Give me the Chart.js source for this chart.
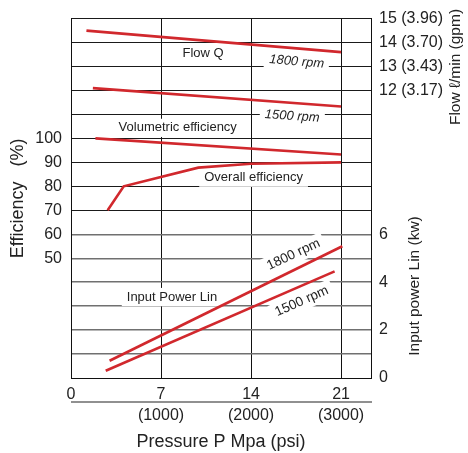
<!DOCTYPE html>
<html>
<head>
<meta charset="utf-8">
<script src="https://cdn.jsdelivr.net/npm/chart.js@4.4.0/dist/chart.umd.min.js"></script>
<style>
  html, body { margin: 0; padding: 0; background: #fff; }
</style>
</head>
<body>
<canvas id="c" width="468" height="453"></canvas>
<script>
// Pressure (MPa) for each curve, and the matching values
const flow1800P = [1.2, 21];
const flow1800Q = [14.5, 13.6];          // l/min
const flow1500P = [1.7, 21];
const flow1500Q = [12.1, 11.33];         // l/min
const volEffP = [1.9, 21];
const volEff = [100, 93.3];              // %
const overallEffP = [2.85, 4.1, 9.9, 14, 21];
const overallEff = [70, 80, 87.8, 89.4, 90];   // %
const power1800P = [3.0, 21.1];
const power1800 = [0.72, 5.5];           // kW
const power1500P = [2.7, 20.5];
const power1500 = [0.3, 4.45];           // kW

// Tick labels
const pressureTicks = [0, 7, 14, 21];
const psiLabels = ['', '(1000)', '(2000)', '(3000)'];
const effTicks = [50, 60, 70, 80, 90, 100];
const flowTicks = [12, 13, 14, 15];
const gpmLabels = ['3.17', '3.43', '3.70', '3.96'];
const powerTicks = [0, 2, 4, 6];

const FONT = '"Liberation Sans", Arial, Helvetica, sans-serif';
const RED = '#d1282d';
const INK = '#222';

function pts(xs, ys) {
    return xs.map((x, i) => ({ x: x, y: ys[i] }));
}

// labels written inside the plot (x in MPa, y on the right-hand 0..15 scale)
const notes = [
    { text: 'Flow Q', x: 10.27, y: 13.54, rot: 0, size: 13 },
    { text: '1800 rpm', x: 17.55, y: 13.2, rot: 5, size: 13, italic: true },
    { text: '1500 rpm', x: 17.2, y: 10.92, rot: 4, size: 13, italic: true },
    { text: 'Volumetric efficiency', x: 8.3, y: 10.44, rot: 0, size: 13 },
    { text: 'Overall efficiency', x: 14.2, y: 8.36, rot: 0, size: 13 },
    { text: '1800 rpm', x: 17.3, y: 5.15, rot: -25, size: 13.5 },
    { text: '1500 rpm', x: 17.95, y: 3.2, rot: -24, size: 13.5 },
    { text: 'Input Power Lin', x: 7.85, y: 3.38, rot: 0, size: 13 }
];

const notesPlugin = {
    id: 'notes',
    beforeDatasetsDraw(chart) {
        const ctx = chart.ctx;
        const xs = chart.scales.x, ys = chart.scales.yR;
        notes.forEach(n => {
            const px = xs.getPixelForValue(n.x);
            const py = ys.getPixelForValue(n.y);
            ctx.save();
            ctx.translate(px, py);
            ctx.rotate(n.rot * Math.PI / 180);
            ctx.font = (n.italic ? 'italic ' : '') + n.size + 'px ' + FONT;
            const w = ctx.measureText(n.text).width;
            ctx.fillStyle = '#fff';
            ctx.fillRect(-w / 2 - 5, -n.size * 0.7, w + 10, n.size * 1.4);
            ctx.fillStyle = INK;
            ctx.textAlign = 'center';
            ctx.textBaseline = 'middle';
            ctx.fillText(n.text, 0, 0);
            ctx.restore();
        });
    },
    afterDraw(chart) {
        const ctx = chart.ctx;
        const a = chart.chartArea;
        // line between MPa and psi labels
        ctx.save();
        ctx.strokeStyle = INK;
        ctx.lineWidth = 1.2;
        ctx.beginPath();
        ctx.moveTo(a.left, a.bottom + 24);
        ctx.lineTo(a.right + 1, a.bottom + 24);
        ctx.stroke();
        // right-hand axis titles
        ctx.fillStyle = INK;
        ctx.font = '15.5px ' + FONT;
        ctx.textAlign = 'center';
        ctx.textBaseline = 'middle';
        ctx.translate(456, 67);
        ctx.rotate(-Math.PI / 2);
        ctx.fillText('Flow \u2113/min (gpm)', 0, 0);
        ctx.restore();
        ctx.save();
        ctx.fillStyle = INK;
        ctx.font = '15.5px ' + FONT;
        ctx.textAlign = 'center';
        ctx.textBaseline = 'middle';
        ctx.translate(415, 286);
        ctx.rotate(-Math.PI / 2);
        ctx.fillText('Input power Lin (kw)', 0, 0);
        ctx.restore();
    }
};

function line(label, data, axis) {
    return {
        label: label,
        data: data,
        yAxisID: axis,
        borderColor: RED,
        borderWidth: 2.6,
        pointRadius: 0,
        fill: false,
        tension: 0
    };
}

new Chart(document.getElementById('c'), {
    type: 'line',
    data: {
        datasets: [
            line('Flow 1800 rpm', pts(flow1800P, flow1800Q), 'yR'),
            line('Flow 1500 rpm', pts(flow1500P, flow1500Q), 'yR'),
            line('Volumetric efficiency', pts(volEffP, volEff), 'yEff'),
            line('Overall efficiency', pts(overallEffP, overallEff), 'yEff'),
            line('Input power 1800 rpm', pts(power1800P, power1800), 'yR'),
            line('Input power 1500 rpm', pts(power1500P, power1500), 'yR')
        ]
    },
    options: {
        responsive: false,
        animation: false,
        devicePixelRatio: 1,
        layout: { padding: { top: 18, left: 0, right: 0, bottom: 0 } },
        plugins: { legend: { display: false }, tooltip: { enabled: false } },
        scales: {
            x: {
                type: 'linear',
                min: 0,
                max: 23.33,
                afterBuildTicks: s => { s.ticks = pressureTicks.map(v => ({ value: v })); },
                afterFit: s => { s.height = 75; },
                grid: { color: '#111', lineWidth: 1, drawTicks: false },
                border: { display: true, color: '#111', width: 1 },
                ticks: {
                    padding: 6,
                    color: INK,
                    maxRotation: 0,
                    font: { family: FONT, size: 16, lineHeight: 1.32 },
                    callback: v => {
                        const i = pressureTicks.indexOf(v);
                        return psiLabels[i] ? [String(v), psiLabels[i]] : String(v);
                    }
                },
                title: {
                    display: true,
                    text: 'Pressure P Mpa (psi)',
                    color: INK,
                    font: { family: FONT, size: 18 },
                    padding: { top: 2, bottom: 0 }
                }
            },
            yEff: {
                type: 'linear',
                position: 'left',
                min: 0,
                max: 150,
                afterBuildTicks: s => { s.ticks = effTicks.map(v => ({ value: v })); },
                afterFit: s => { s.width = 71; },
                grid: { display: false, drawTicks: false },
                border: { display: true, color: '#111', width: 1 },
                ticks: {
                    padding: 9,
                    color: INK,
                    font: { family: FONT, size: 16 }
                },
                title: {
                    display: true,
                    text: 'Efficiency   (%)',
                    color: INK,
                    font: { family: FONT, size: 18 },
                    padding: { top: 7, bottom: 0 }
                }
            },
            yR: {
                type: 'linear',
                position: 'right',
                min: 0,
                max: 15,
                afterFit: s => { s.width = 97; },
                grid: {
                    drawTicks: false,
                    color: c => (c.tick && c.tick.value < 7 && c.tick.value > 0) ? '#707070' : '#1a1a1a',
                    lineWidth: c => (c.tick && c.tick.value < 7 && c.tick.value > 0) ? 1.4 : 1
                },
                border: { display: true, color: '#111', width: 1 },
                ticks: {
                    stepSize: 1,
                    autoSkip: false,
                    padding: 8,
                    color: INK,
                    font: { family: FONT, size: 16 },
                    callback: v => {
                        const i = flowTicks.indexOf(v);
                        if (i >= 0) return v + ' (' + gpmLabels[i] + ')';
                        if (powerTicks.includes(v)) return String(v);
                        return '';
                    }
                }
            }
        }
    },
    plugins: [notesPlugin]
});
</script>
</body>
</html>
